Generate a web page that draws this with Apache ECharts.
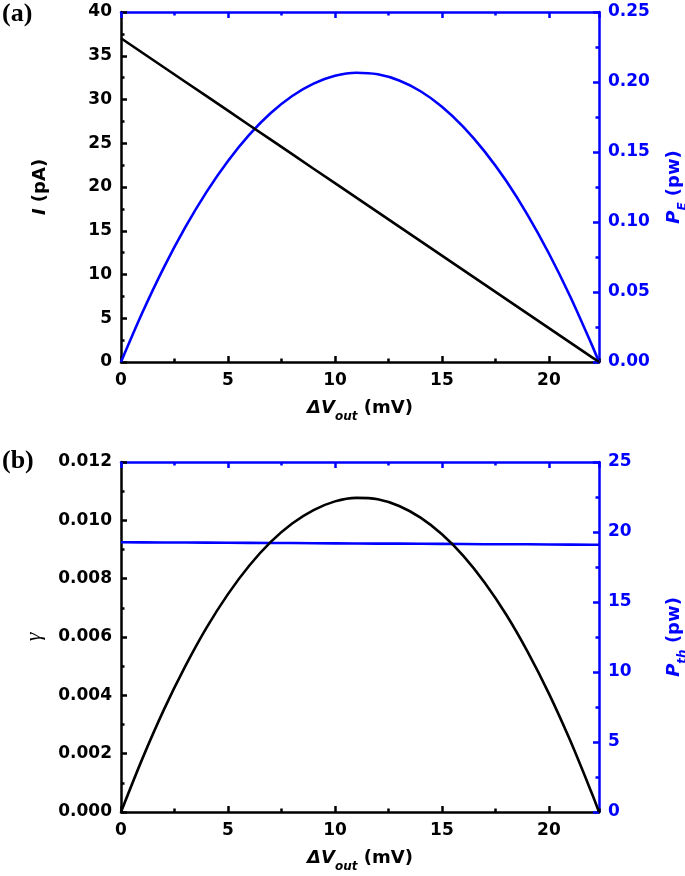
<!DOCTYPE html>
<html>
<head>
<meta charset="utf-8">
<script src="https://cdn.jsdelivr.net/npm/echarts@6/dist/echarts.min.js"></script>
<style>
html,body{margin:0;padding:0;background:#fff;}
#chart{width:685px;height:876px;}
</style>
</head>
<body>
<div id="chart"></div>
<script>
// Output voltage ΔV_out (mV)
const vOut = [0,1,2,3,4,5,6,7,8,9,10,11,12,13,14,15,16,17,18,19,20,21,22,22.34];
// Panel (a): current I (pA)
const currentPA = [37,35.34,33.69,32.03,30.38,28.72,27.06,25.41,23.75,22.09,20.44,18.78,17.13,15.47,13.81,12.16,10.50,8.84,7.19,5.53,3.88,2.22,0.56,0];
// Panel (a): power P_E (pw)
const powerE = [0,0.0353,0.0674,0.0961,0.1215,0.1436,0.1624,0.1778,0.1900,0.1988,0.2044,0.2066,0.2055,0.2011,0.1934,0.1824,0.1680,0.1503,0.1294,0.1051,0.0775,0.0466,0.0124,0];
// Panel (b): efficiency γ
const gamma = [0,0.00183,0.00350,0.00499,0.00632,0.00747,0.00845,0.00926,0.00989,0.01035,0.01065,0.01077,0.01072,0.01049,0.01009,0.00952,0.00878,0.00786,0.00677,0.00550,0.00406,0.00244,0.00065,0];
// Panel (b): heat power P_th (pw)
const powerTh = [19.27,19.26,19.25,19.25,19.24,19.23,19.22,19.21,19.21,19.20,19.19,19.18,19.17,19.17,19.16,19.15,19.14,19.13,19.12,19.12,19.11,19.10,19.09,19.09];

const xMax = 22.34;
const xMajorTicks = 5, xMinorTicks = 2.5;
const yTicksA = {left:[0,40,5], right:[0,0.25,0.05]};
const yTicksB = {left:[0,0.012,0.002], right:[0,25,5]};

const BLUE = '#0000ff';
const BLACK = '#000000';
const FONT = '"DejaVu Sans", "Liberation Sans", Arial, sans-serif';
const TICK_FS = 17;
const NAME_FS = 18;
const AXW = 2.5;

const chart = echarts.init(document.getElementById('chart'), null, {renderer:'canvas'});

function pairs(xs, ys){ return xs.map((x,i)=>[x, ys[i]]); }

const xName = '{i|ΔV}{s|out}{n| (mV)}';
const xNameStyle = {
  color: BLACK,
  rich: {
    i:{fontFamily:FONT, fontStyle:'italic', fontWeight:'bold', fontSize:NAME_FS, lineHeight:30, color:BLACK},
    s:{fontFamily:FONT, fontStyle:'italic', fontWeight:'bold', fontSize:12, lineHeight:14, verticalAlign:'bottom', color:BLACK},
    n:{fontFamily:FONT, fontWeight:'bold', fontSize:NAME_FS, lineHeight:30, color:BLACK}
  }
};

function xAxes(gridIndex, withName){
  return [
    { // bottom major
      type:'value', gridIndex, position:'bottom', min:0, max:xMax, interval:xMajorTicks,
      axisLine:{show:true, onZero:false, lineStyle:{color:BLACK, width:AXW}},
      axisTick:{show:true, inside:true, length:6, lineStyle:{color:BLACK, width:AXW}},
      axisLabel:{show:true, showMaxLabel:false, color:BLACK, fontFamily:FONT, fontWeight:'bold', fontSize:TICK_FS, margin:10},
      splitLine:{show:false},
      name: withName ? xName : '', nameLocation:'middle', nameGap:31, nameTextStyle:xNameStyle
    },
    { // bottom minor
      type:'value', gridIndex, position:'bottom', min:0, max:xMax, interval:xMinorTicks,
      axisLine:{show:false, onZero:false},
      axisTick:{show:true, inside:true, length:3.5, lineStyle:{color:BLACK, width:AXW}},
      axisLabel:{show:false}, splitLine:{show:false}
    },
    { // top major
      type:'value', gridIndex, position:'top', min:0, max:xMax, interval:xMajorTicks,
      axisLine:{show:true, onZero:false, lineStyle:{color:BLUE, width:AXW}},
      axisTick:{show:true, inside:true, length:6, lineStyle:{color:BLUE, width:AXW}},
      axisLabel:{show:false}, splitLine:{show:false}
    },
    { // top minor
      type:'value', gridIndex, position:'top', min:0, max:xMax, interval:xMinorTicks,
      axisLine:{show:false, onZero:false},
      axisTick:{show:true, inside:true, length:3.5, lineStyle:{color:BLUE, width:AXW}},
      axisLabel:{show:false}, splitLine:{show:false}
    }
  ];
}

function yAxis(gridIndex, pos, range, color, decimals, name, rich, gap){
  return {
    type:'value', gridIndex, position:pos, min:range[0], max:range[1], interval:range[2],
    axisLine:{show:true, onZero:false, lineStyle:{color, width:AXW}},
    axisTick:{show:true, inside:true, length:6, lineStyle:{color, width:AXW}},
    minorTick:{show:true, splitNumber:2, length:3.5, lineStyle:{color, width:AXW}},
    axisLabel:{color, fontFamily:FONT, fontWeight:'bold', fontSize:TICK_FS, margin:9,
      formatter:(v)=>Number(v).toFixed(decimals)},
    splitLine:{show:false}, minorSplitLine:{show:false},
    name, nameLocation:'middle', nameGap:gap,
    nameTextStyle:{color, fontFamily:FONT, fontWeight:'bold', fontSize:NAME_FS, rich}
  };
}

const richBlack = {
  i:{fontFamily:FONT, fontStyle:'italic', fontWeight:'bold', fontSize:NAME_FS, color:BLACK},
  n:{fontFamily:FONT, fontWeight:'bold', fontSize:NAME_FS, color:BLACK},
  g:{fontFamily:'"Liberation Serif", "Times New Roman", serif', fontStyle:'italic', fontWeight:'normal', fontSize:22, color:BLACK}
};
const richBlue = {
  i:{fontFamily:FONT, fontStyle:'italic', fontWeight:'bold', fontSize:NAME_FS, lineHeight:30, color:BLUE},
  s:{fontFamily:FONT, fontStyle:'italic', fontWeight:'bold', fontSize:12, lineHeight:14, verticalAlign:'bottom', color:BLUE},
  n:{fontFamily:FONT, fontWeight:'bold', fontSize:NAME_FS, lineHeight:30, color:BLUE}
};

const option = {
  backgroundColor:'#ffffff',
  animation:false,
  grid:[
    {left:121, right:86, top:12, height:350, containLabel:false, outerBoundsMode:'none'},
    {left:121, right:86, top:462, height:350, containLabel:false, outerBoundsMode:'none'}
  ],
  graphic:[
    {type:'text', left:2, top:1, style:{text:'(a)', font:'bold 26px "Liberation Serif", "Times New Roman", serif', fill:BLACK}},
    {type:'text', left:2, top:448, style:{text:'(b)', font:'bold 26px "Liberation Serif", "Times New Roman", serif', fill:BLACK}}
  ],
  xAxis: [...xAxes(0, true), ...xAxes(1, true)],
  yAxis: [
    yAxis(0, 'left', yTicksA.left, BLACK, 0, '{i|I}{n| (pA)}', richBlack, 72),
    yAxis(0, 'right', yTicksA.right, BLUE, 2, '{i|P}{s|E}{n| (pw)}', richBlue, 60),
    yAxis(1, 'left', yTicksB.left, BLACK, 3, '{g|γ}', richBlack, 76),
    yAxis(1, 'right', yTicksB.right, BLUE, 0, '{i|P}{s|th}{n| (pw)}', richBlue, 60)
  ],
  series:[
    {type:'line', name:'P_E', xAxisIndex:0, yAxisIndex:1, data:pairs(vOut, powerE), smooth:0.3,
      showSymbol:false, lineStyle:{color:BLUE, width:2.6}, z:3},
    {type:'line', name:'I', xAxisIndex:0, yAxisIndex:0, data:pairs(vOut, currentPA),
      showSymbol:false, lineStyle:{color:BLACK, width:2.6}, z:4},
    {type:'line', name:'P_th', xAxisIndex:4, yAxisIndex:3, data:pairs(vOut, powerTh),
      showSymbol:false, lineStyle:{color:BLUE, width:2.6}, z:3},
    {type:'line', name:'gamma', xAxisIndex:4, yAxisIndex:2, data:pairs(vOut, gamma), smooth:0.3,
      showSymbol:false, lineStyle:{color:BLACK, width:2.6}, z:4}
  ]
};
chart.setOption(option);
</script>
</body>
</html>
